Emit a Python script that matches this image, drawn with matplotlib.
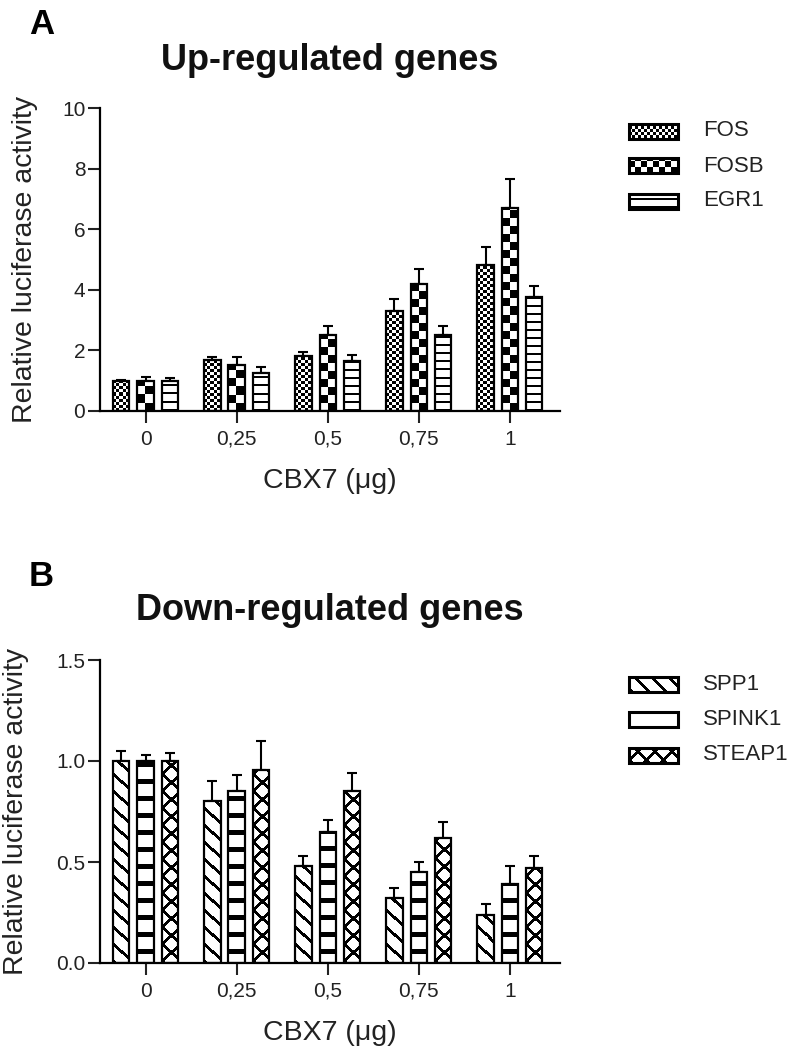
import numpy as np
import matplotlib
matplotlib.use('Agg')
import matplotlib.pyplot as plt
from matplotlib.patches import Rectangle

plt.rcParams['font.family'] = ['Liberation Sans', 'DejaVu Sans']

# DATA
doses = ['0', '0,25', '0,5', '0,75', '1']

up_genes = ['FOS', 'FOSB', 'EGR1']
fos = [1.0, 1.68, 1.80, 3.30, 4.82]
fos_err = [0.03, 0.09, 0.15, 0.40, 0.60]
fosb = [1.0, 1.52, 2.50, 4.19, 6.70]
fosb_err = [0.12, 0.25, 0.30, 0.50, 0.96]
egr1 = [1.0, 1.26, 1.65, 2.51, 3.76]
egr1_err = [0.08, 0.18, 0.20, 0.28, 0.37]

down_genes = ['SPP1', 'SPINK1', 'STEAP1']
spp1 = [1.0, 0.80, 0.48, 0.32, 0.24]
spp1_err = [0.05, 0.10, 0.05, 0.05, 0.05]
spink1 = [1.0, 0.85, 0.65, 0.45, 0.39]
spink1_err = [0.03, 0.08, 0.06, 0.05, 0.09]
steap1 = [1.0, 0.955, 0.85, 0.62, 0.47]
steap1_err = [0.04, 0.145, 0.09, 0.08, 0.06]

W, H = 793, 1061


# pixel textures, 1 = black, row 0 at the bottom
def texture(kind, h, w):
    r, c = np.mgrid[0:h, 0:w]
    if kind == 'fine_check':
        return ((r // 3) + (c // 3)) % 2
    if kind == 'big_check':
        return ((r // 8) + (c // 8)) % 2
    if kind == 'small_check':
        return ((r // 6) + (c // 6)) % 2
    if kind == 'thin_lines':
        return ((r % 8) < 2).astype(int)
    if kind == 'thick_lines':
        return (((r - 9) % 17) < 5).astype(int)
    if kind == 'diag':
        return (((r + c) % 17) < 4).astype(int)
    if kind == 'cross':
        return ((((r + c) % 17) < 4) | (((r - c) % 17) < 4)).astype(int)
    return np.zeros((h, w), dtype=int)


def fill_bars(ax, bars, kind):
    for b in bars:
        x0, w, h = b.get_x(), b.get_width(), b.get_height()
        p0 = ax.transData.transform((x0, 0))
        p1 = ax.transData.transform((x0 + w, h))
        wpx = max(1, int(round(p1[0] - p0[0])))
        hpx = max(1, int(round(p1[1] - p0[1])))
        im = ax.imshow(texture(kind, hpx, wpx), cmap='gray_r', vmin=0, vmax=1,
                       extent=(x0, x0 + w, 0, h), origin='lower', aspect='auto',
                       interpolation='nearest', zorder=1)
        im.set_clip_path(b)


def swatch(fig, xpx, ypx, kind):
    sw, sh = 49, 15
    sax = fig.add_axes([xpx / W, 1 - (ypx + sh / 2) / H, sw / W, sh / H])
    sax.axis('off')
    sax.imshow(texture(kind, sh, sw), cmap='gray_r', vmin=0, vmax=1,
               extent=(0, 1, 0, 1), origin='lower', aspect='auto', interpolation='nearest')
    sax.set_xlim(0, 1)
    sax.set_ylim(0, 1)
    r = Rectangle((0, 0), 1, 1, transform=sax.transAxes, facecolor='none',
                  edgecolor='black', lw=2.2, clip_on=False)
    sax.add_patch(r)


def panel(fig, top_px, series, errs, ylim, yticks, yticklabels, title, pad, kinds, ylab_x):
    ax = fig.add_axes([100 / W, 1 - (top_px + 303) / H, 460 / W, 303 / H])
    ax.set_xlim(-0.5, 4.55)
    ax.set_ylim(*ylim)
    x = np.arange(len(doses))
    w = 0.18
    off = 0.267
    for k, (vals, err, kind) in enumerate(zip(series, errs, kinds)):
        xs = x + (k - 1) * off
        ax.errorbar(xs, vals, yerr=[np.zeros(len(vals)), err], fmt='none', ecolor='black',
                    elinewidth=1.5, capsize=3.6, capthick=1.5, zorder=1)
        bars = ax.bar(xs, vals, w, facecolor='none', edgecolor='black', lw=1.6, zorder=3)
        fill_bars(ax, bars, kind)
    ax.set_xlim(-0.5, 4.55)
    ax.set_ylim(*ylim)
    ax.set_xticks(x)
    ax.set_xticklabels(doses)
    ax.set_yticks(yticks)
    ax.set_yticklabels(yticklabels)
    for s in ['top', 'right']:
        ax.spines[s].set_visible(False)
    for s in ['left', 'bottom']:
        ax.spines[s].set_linewidth(1.6)
    ax.tick_params(width=1.5, length=8.6, labelsize=15, direction='out', colors='#222222',
                   labelcolor='#222222')
    ax.tick_params(axis='y', pad=2)
    ax.tick_params(axis='x', pad=5)
    ax.set_ylabel('Relative luciferase activity', fontsize=20.5, color='#222222')
    ax.yaxis.set_label_coords((ylab_x - 100) / 460, 0.5)
    ax.set_xlabel('CBX7 (μg)', fontsize=20.5, labelpad=14, color='#222222')
    ax.set_title(title, fontsize=26, fontweight='bold', pad=pad, color='#111111')
    return ax


fig = plt.figure(figsize=(W / 100, H / 100), dpi=100)

panel(fig, 108, [fos, fosb, egr1], [fos_err, fosb_err, egr1_err],
      (0, 10), [0, 2, 4, 6, 8, 10], ['0', '2', '4', '6', '8', '10'],
      'Up-regulated genes', 27, ['fine_check', 'big_check', 'thin_lines'], 38)
panel(fig, 660, [spp1, spink1, steap1], [spp1_err, spink1_err, steap1_err],
      (0, 1.5), [0, 0.5, 1.0, 1.5], ['0.0', '0.5', '1.0', '1.5'],
      'Down-regulated genes', 29, ['diag', 'thick_lines', 'cross'], 29)

fig.text(29 / W, 1 - 25 / H, 'A', fontsize=25, fontweight='bold', va='center')
fig.text(29 / W, 1 - 576 / H, 'B', fontsize=25, fontweight='bold', va='center')

# legends
up_sw = ['fine_check', 'small_check', 'thin_lines']
down_sw = ['diag', 'blank', 'cross']
for i, name in enumerate(up_genes):
    yy = 131 + 35 * i
    swatch(fig, 629, yy, up_sw[i])
    fig.text(703 / W, 1 - yy / H, name, fontsize=16, va='center', color='#222222')
for i, name in enumerate(down_genes):
    yy = 684 + 35.5 * i
    swatch(fig, 629, yy, down_sw[i])
    fig.text(703 / W, 1 - yy / H, name, fontsize=16, va='center', color='#222222')

fig.savefig('out.png', dpi=100)
